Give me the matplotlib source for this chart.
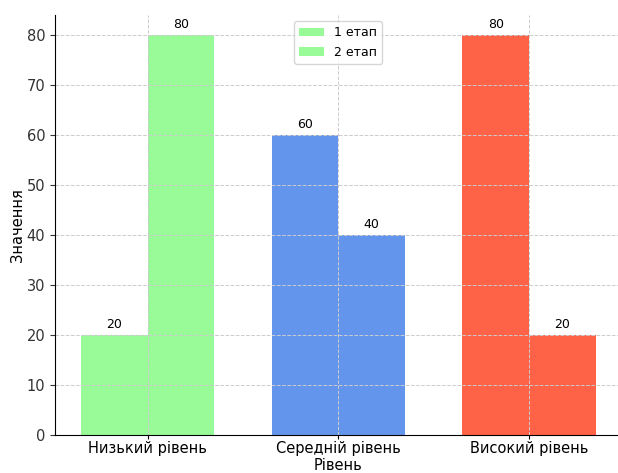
import numpy as np
import matplotlib.pyplot as plt

levels = ['Низький рівень', 'Середній рівень', 'Високий рівень']
stage1 = [20, 60, 80]
stage2 = [80, 40, 20]
colors = ['palegreen', 'cornflowerblue', 'tomato']

barWidth = 0.35
x = np.arange(len(levels))

fig = plt.figure(figsize=(6.18, 4.73), dpi=100)
ax = fig.add_axes([0.089, 0.080, 0.917, 0.888])

b1 = ax.bar(x - barWidth / 2, stage1, barWidth, color=colors, label='1 етап')
b2 = ax.bar(x + barWidth / 2, stage2, barWidth, color=colors, label='2 етап')

for bars in (b1, b2):
    for rect in bars:
        h = rect.get_height()
        ax.annotate(f'{h}', xy=(rect.get_x() + rect.get_width() / 2, h),
                    xytext=(0, 3), textcoords='offset points',
                    ha='center', va='bottom', fontsize=9)

ax.set_xticks(x)
ax.set_xticklabels(levels, fontsize=10.5)
ax.tick_params(axis='x', pad=1.5, length=3)
ax.tick_params(axis='y', labelsize=10.5, colors='#333333')
ax.set_xlabel('Рівень', fontsize=10.5, labelpad=1)
ax.set_ylabel('Значення', fontsize=10.5, labelpad=1)

ax.grid(True, linestyle='--', color='#cccccc', linewidth=0.7)
ax.spines['top'].set_visible(False)
ax.spines['right'].set_visible(False)

ax.legend(loc='upper center', fontsize=9)

fig.savefig('out.png', dpi=100)
